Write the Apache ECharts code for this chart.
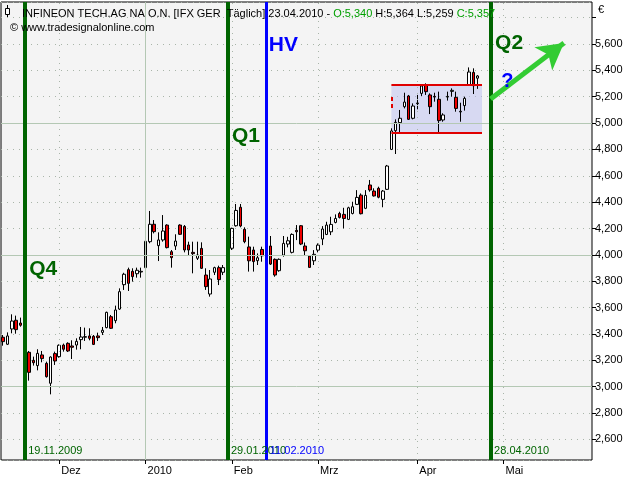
<!DOCTYPE html>
<html><head><meta charset="utf-8">
<script src="https://cdn.jsdelivr.net/npm/echarts@6/dist/echarts.min.js"></script>
<style>html,body{margin:0;padding:0;background:#fff}#c{width:640px;height:480px}</style>
</head><body><div id="c"></div><script>
// trading days (categories), including future days up to end of May 2010
const nov09 = [12,13,16,17,18,19,20,23,24,25,26,27,30];
const dec09 = [1,2,3,4,7,8,9,10,11,14,15,16,17,18,21,22,23,28,29,30];
const jan10 = [4,5,6,7,8,11,12,13,14,15,18,19,20,21,22,25,26,27,28,29];
const feb10 = [1,2,3,4,5,8,9,10,11,12,15,16,17,18,19,22,23,24,25,26];
const mar10 = [1,2,3,4,5,8,9,10,11,12,15,16,17,18,19,22,23,24,25,26,29,30,31];
const apr10 = [1,6,7,8,9,12,13,14,15,16,19,20,21,22,23,26,27,28,29,30];
const may10 = [3,4,5,6,7,10,11,12,13,14,17,18,19,20,21,24,25,26,27,28,31];
const monthNames = {'2009-12':'Dez','2010-01':'2010','2010-02':'Feb','2010-03':'Mrz','2010-04':'Apr','2010-05':'Mai'};

// OHLC values in EUR
const openV  = [3.375,3.322,3.438,3.504,3.483,3.529,3.261,3.200,3.160,3.241,3.177,3.026,3.251,3.228,3.316,3.329,3.309,3.316,3.357,3.375,3.385,3.382,3.385,3.412,3.448,3.531,3.501,3.589,3.774,3.888,3.875,3.857,3.870,3.903,4.100,4.232,4.070,4.113,4.226,4.024,4.067,4.226,4.216,4.075,4.019,3.974,4.049,3.847,3.703,3.868,3.903,3.868,4.050,4.050,4.221,4.361,4.194,4.060,4.037,3.956,4.041,4.036,4.067,3.966,3.880,3.998,4.082,4.019,4.186,4.221,4.067,3.991,3.955,4.036,4.120,4.155,4.175,4.246,4.314,4.307,4.269,4.314,4.383,4.453,4.353,4.530,4.484,4.505,4.421,4.497,4.800,4.942,5.003,5.124,5.205,5.036,5.147,5.225,5.286,5.213,5.202,5.180,5.023,5.197,5.240,5.195,5.084,5.132,5.288,5.384,5.340];
const closeV = [3.342,3.385,3.498,3.433,3.466,3.215,3.109,3.182,3.253,3.213,3.076,3.225,3.195,3.314,3.284,3.271,3.299,3.344,3.377,3.380,3.367,3.321,3.372,3.428,3.564,3.443,3.582,3.721,3.853,3.784,3.835,3.883,3.875,4.103,4.232,4.176,4.113,4.181,4.055,3.979,4.105,4.156,4.037,4.037,4.009,3.999,3.898,3.759,3.817,3.903,3.812,3.903,4.010,4.201,4.337,4.219,4.100,3.955,3.949,3.978,3.993,4.057,3.930,3.847,3.966,4.087,4.107,4.155,4.175,4.082,4.031,3.905,4.004,4.074,4.196,4.226,4.231,4.276,4.284,4.276,4.357,4.365,4.436,4.312,4.451,4.492,4.447,4.437,4.484,4.674,4.940,5.005,5.036,5.159,5.028,5.129,5.152,5.281,5.238,5.124,5.197,5.018,5.061,5.202,5.248,5.111,5.089,5.187,5.387,5.283,5.357];
const lowV   = [3.311,3.316,3.405,3.402,3.455,3.145,3.046,3.160,3.124,3.185,3.069,2.942,3.165,3.220,3.266,3.263,3.210,3.281,3.284,3.347,3.352,3.316,3.347,3.392,3.443,3.438,3.481,3.582,3.734,3.726,3.797,3.827,3.827,3.903,4.088,4.163,3.953,4.100,4.049,3.903,4.037,4.151,4.019,3.999,3.860,3.961,3.893,3.734,3.683,3.847,3.771,3.847,3.790,4.037,4.214,4.209,4.088,3.873,3.873,3.923,3.948,3.973,3.923,3.834,3.872,3.986,4.057,4.011,4.112,4.074,3.998,3.902,3.923,4.019,4.074,4.150,4.150,4.239,4.276,4.201,4.264,4.307,4.378,4.307,4.347,4.479,4.442,4.429,4.361,4.492,4.795,4.765,4.927,5.111,5.023,5.028,5.104,5.205,5.213,5.068,5.162,4.927,5.010,5.170,5.200,5.086,5.010,5.094,5.288,5.220,5.259];
const highV  = [3.392,3.412,3.549,3.539,3.524,3.557,3.271,3.228,3.284,3.271,3.190,3.230,3.266,3.321,3.327,3.337,3.352,3.367,3.453,3.448,3.443,3.392,3.410,3.453,3.569,3.544,3.615,3.746,3.864,3.903,3.898,3.903,3.903,4.125,4.333,4.264,4.171,4.302,4.232,4.037,4.156,4.232,4.226,4.100,4.100,4.100,4.095,3.898,3.885,3.910,3.918,3.923,4.138,4.206,4.386,4.386,4.209,4.138,4.062,4.011,4.062,4.074,4.143,3.973,3.973,4.143,4.137,4.163,4.226,4.226,4.094,3.998,4.036,4.087,4.218,4.251,4.289,4.307,4.327,4.357,4.365,4.403,4.491,4.466,4.491,4.568,4.505,4.517,4.492,4.682,4.960,5.028,5.099,5.230,5.213,5.149,5.213,5.296,5.301,5.225,5.230,5.238,5.074,5.238,5.263,5.238,5.154,5.200,5.422,5.415,5.364];

// y-axis tick labels
const yTicks = [2.6,2.8,3.0,3.2,3.4,3.6,3.8,4.0,4.2,4.4,4.6,4.8,5.0,5.2,5.4,5.6];
const majorLevels = [3.0,4.0,5.0];

// annotations
const quarterLines = [
  {date:'2009-11-19', name:'Q4', label:'19.11.2009', textY:3.889},
  {date:'2010-01-29', name:'Q1', label:'29.01.2010', textY:4.894},
  {date:'2010-04-28', name:'Q2', label:'28.04.2010', textY:5.605}
];
const hvLine = {date:'2010-02-11', name:'HV', label:'11.02.2010', textY:5.584};
const box = {from:'2010-03-24', to:'2010-04-26', top:5.288, bottom:4.924, dashTop:5.197, dashBottom:5.098};
const arrow = {from:['2010-04-28',5.182], to:['2010-05-21',5.607]};
const question = {date:'2010-05-04', y:5.311};
const dateLabelY = 2.512;

function mk(y,m,days){return days.map(d=>y+'-'+String(m).padStart(2,'0')+'-'+String(d).padStart(2,'0'));}
const dates = [].concat(mk(2009,11,nov09),mk(2009,12,dec09),mk(2010,1,jan10),mk(2010,2,feb10),mk(2010,3,mar10),mk(2010,4,apr10),mk(2010,5,may10));
const ohlc = openV.map((o,i)=>[o, closeV[i], lowV[i], highV[i]]);
function isMonthStart(i){return i>0 && dates[i].slice(0,7)!==dates[i-1].slice(0,7);}
const monthStarts = dates.filter((d,i)=>isMonthStart(i));

const GREEN='#006400', BLUE='#0000ff', FONT='Liberation Sans';
const dotted = {color:'#a9b5a9', type:[1,5], width:1};
const solidGrid = {color:'#b4c8b4', type:'solid', width:1};
const RED = {color:'#e00000', width:2, type:'solid'};

const gridLines = [];
monthStarts.forEach(d=>{
  gridLines.push({xAxis:d, lineStyle: d.startsWith('2010-01') ? solidGrid : dotted});
});
majorLevels.forEach(v=>gridLines.push({yAxis:v, lineStyle:solidGrid}));
gridLines.push([{coord:[box.from,box.top], lineStyle:RED},{coord:[box.to,box.top]}]);
gridLines.push([{coord:[box.from,box.bottom], lineStyle:RED},{coord:[box.to,box.bottom]}]);
gridLines.push([{coord:[box.from,box.dashTop], lineStyle:{color:'#e00000',width:2,type:[4,3]}},{coord:[box.from,box.dashBottom]}]);

const annLines = [];
quarterLines.forEach(q=>annLines.push({xAxis:q.date, lineStyle:{color:GREEN,width:4,type:'solid'}}));
annLines.push({xAxis:hvLine.date, lineStyle:{color:BLUE,width:3,type:'solid'}});
annLines.push([{coord:arrow.from, symbol:'none', lineStyle:{color:'#33cc33',width:5,type:'solid'}},{coord:arrow.to, symbol:'arrow', symbolSize:[22,26]}]);

function txt(date, y, text, color, size, bold, dx, align){
  return {coord:[date,y], value:text, symbol:'circle', symbolSize:1, itemStyle:{color:'rgba(0,0,0,0)'},
    label:{show:true, formatter:text, position:[dx,0], align:align||'left', verticalAlign:'middle',
      color:color, fontSize:size, fontWeight:bold?'bold':'normal', fontFamily:FONT}};
}
const points = [];
quarterLines.forEach(q=>{
  points.push(txt(q.date,q.textY,q.name,GREEN,21,true,5));
  points.push(txt(q.date,dateLabelY,q.label,GREEN,11,false,4));
});
points.push(txt(hvLine.date,hvLine.textY,hvLine.name,BLUE,21,true,3));
points.push(txt(hvLine.date,dateLabelY,hvLine.label,BLUE,11,false,4));
points.push(txt(question.date,question.y,'?',BLUE,20,true,0,'center'));

const chart = echarts.init(document.getElementById('c'), null, {renderer:'canvas'});
chart.setOption({
  animation:false,
  backgroundColor:'#ffffff',
  title:[
    {left:17, top:3, text:'{a|INFINEON TECH.AG NA O.N. [IFX GER  Täglich] 23.04.2010 - }{g|O:5,340}{a| H:5,364 L:5,259 }{g|C:5,357}',
     textStyle:{fontSize:11, fontWeight:'normal', fontFamily:FONT, rich:{a:{color:'#000',fontSize:11,fontFamily:FONT},g:{color:'#00a000',fontSize:11,fontFamily:FONT}}}},
    {left:5, top:17, text:'© www.tradesignalonline.com', textStyle:{fontSize:11,fontWeight:'normal',color:'#000',fontFamily:FONT}}
  ],
  graphic:[
    {type:'line', shape:{x1:7.5,y1:5,x2:7.5,y2:17}, style:{stroke:'#000',lineWidth:1}, z:100},
    {type:'rect', shape:{x:5.5,y:8.5,width:4,height:6}, style:{fill:'#fff',stroke:'#000',lineWidth:1}, z:101},
    {type:'text', left:598, top:4, style:{text:'€', fill:'#000', font:'11px '+FONT}, z:100}
  ],
  grid:{left:1, right:48, top:2, bottom:20, show:true, borderColor:'#000', borderWidth:1, backgroundColor:'#f4f4f4'},
  xAxis:{type:'category', data:dates, boundaryGap:true,
    axisLine:{show:false},
    axisTick:{show:true, alignWithLabel:true, interval:(i)=>isMonthStart(i), length:4, lineStyle:{color:'#000'}},
    axisLabel:{interval:(i)=>isMonthStart(i), formatter:(v)=>monthNames[v.slice(0,7)]||'', align:'left', margin:5, padding:[0,0,0,2],
      color:'#000', fontSize:11, fontFamily:FONT},
    splitLine:{show:false}},
  yAxis:{type:'value', position:'right', min:2.444, max:5.918, splitNumber:17, minInterval:0.2, maxInterval:0.2,
    axisLine:{show:false},
    axisTick:{show:true, length:4, lineStyle:{color:'#000'}},
    axisLabel:{showMinLabel:false, showMaxLabel:false, margin:3, color:'#000', fontSize:11, fontFamily:FONT,
      formatter:(v)=> yTicks.some(t=>Math.abs(t-v)<1e-6) ? v.toFixed(3).replace('.',',') : ''},
    splitLine:{show:true, lineStyle:dotted}},
  series:[
    {type:'line', data:[], z:1, silent:true,
     markLine:{silent:true, symbol:'none', label:{show:false}, animation:false, data:gridLines},
     markArea:{silent:true, itemStyle:{color:'rgba(185,190,240,0.5)'}, data:[[{coord:[box.from,box.top]},{coord:[box.to,box.bottom]}]]}
    },
    {type:'candlestick', data:ohlc, z:2, barWidth:3,
     itemStyle:{color:'#ffffff', color0:'#ee0000', borderColor:'#000000', borderColor0:'#000000', borderWidth:1}},
    {type:'line', data:[], z:3, silent:true,
     markLine:{silent:true, symbol:'none', label:{show:false}, animation:false, data:annLines},
     markPoint:{silent:true, animation:false, data:points}
    }
  ]
});
</script></body></html>
